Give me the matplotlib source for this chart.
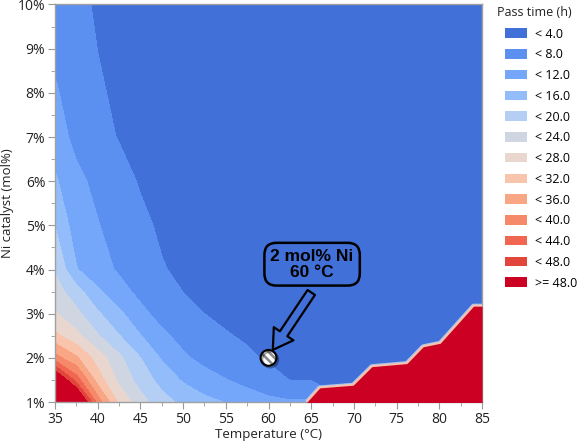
import numpy as np
import matplotlib
matplotlib.use('Agg')
import matplotlib.pyplot as plt
import matplotlib.patheffects as pe
from matplotlib.patches import Patch
from matplotlib.ticker import FuncFormatter, MultipleLocator

# grid
temperature = [35, 37.5, 40, 42.5, 45, 47.5, 50, 52.5, 55, 57.5, 60, 62.5, 65, 70, 75, 80, 85]
ni_catalyst = [1.0, 1.5, 2.0, 2.5, 3.0, 3.5, 4.0, 5.0, 6.0, 7.0, 8.0, 9.0, 10.0]

# pass time (h), one row per Ni level
pass_time = [
    [95, 58, 38, 27, 21.5, 17.5, 15, 13, 11.8, 10.3, 9.0, 8.4, 8.6, 3.2, 3.0, 2.9, 2.8],
    [55, 42, 30, 23.0, 18.3, 14.5, 11.5, 9.6, 8.1, 6.6, 5.2, 3.9, 3.8, 3.4, 3.2, 3.0, 2.9],
    [37.5, 32.5, 26, 20.8, 16.0, 11.5, 8.6, 6.8, 5.6, 4.5, 3.6, 3.3, 3.2, 3.0, 2.9, 2.8, 2.7],
    [29, 25.0, 20.3, 16.1, 12.1, 8.8, 6.7, 5.3, 4.2, 3.6, 3.3, 3.1, 3.0, 2.9, 2.8, 2.7, 2.6],
    [24.3, 21.0, 16.5, 12.8, 9.0, 6.6, 5.0, 3.98, 3.4, 3.1, 2.9, 2.8, 2.7, 2.6, 2.5, 2.5, 2.4],
    [21.8, 17.5, 12.6, 9.3, 7.0, 5.3, 3.95, 3.3, 3.0, 2.8, 2.7, 2.6, 2.5, 2.5, 2.4, 2.4, 2.3],
    [19.6, 12.2, 9.5, 7.5, 5.8, 4.2, 3.4, 3.0, 2.8, 2.6, 2.5, 2.5, 2.4, 2.4, 2.3, 2.3, 2.2],
    [15.8, 9.8, 8.2, 6.0, 4.7, 3.5, 3.0, 2.7, 2.5, 2.4, 2.3, 2.3, 2.2, 2.2, 2.1, 2.1, 2.0],
    [12.5, 9.0, 6.9, 5.2, 3.7, 3.2, 2.8, 2.5, 2.4, 2.3, 2.2, 2.2, 2.1, 2.1, 2.0, 2.0, 1.9],
    [10.0, 6.8, 5.1, 3.8, 3.2, 2.8, 2.5, 2.4, 2.3, 2.2, 2.1, 2.1, 2.0, 2.0, 1.9, 1.9, 1.8],
    [8.4, 6.2, 4.4, 3.4, 3.0, 2.7, 2.4, 2.3, 2.2, 2.1, 2.0, 2.0, 1.9, 1.9, 1.8, 1.8, 1.7],
    [7.2, 5.4, 3.95, 3.3, 2.9, 2.6, 2.4, 2.2, 2.1, 2.0, 2.0, 1.9, 1.9, 1.8, 1.8, 1.7, 1.7],
    [6.2, 4.8, 3.6, 3.2, 2.8, 2.5, 2.3, 2.2, 2.1, 2.0, 1.9, 1.9, 1.8, 1.8, 1.7, 1.7, 1.6],
]

levels = [0, 4, 8, 12, 16, 20, 24, 28, 32, 36, 40, 44, 48, 1000]
level_labels = ['< 4.0', '< 8.0', '< 12.0', '< 16.0', '< 20.0', '< 24.0', '< 28.0',
                '< 32.0', '< 36.0', '< 40.0', '< 44.0', '< 48.0', '>= 48.0']
level_colors = ['#4070d8', '#5b8ff0', '#74a7fa', '#93bcfa', '#b4cef4', '#cfd6e2', '#e8d6cf',
                '#f8c4ab', '#f9a685', '#f6896a', '#f06650', '#e2463a', '#cc0022']

# high-temperature region where pass time jumps to >= 48 h
red_edge_temp = [64.5, 66.0, 69.9, 72.1, 76.2, 78.1, 80.1, 84.0, 85.0]
red_edge_ni = [1.0, 1.32, 1.38, 1.80, 1.87, 2.25, 2.33, 3.17, 3.17]

point_temp = 60
point_ni = 2

plt.rcParams['font.family'] = ['Open Sans', 'DejaVu Sans']
plt.rcParams['hatch.linewidth'] = 1.8

fig = plt.figure(figsize=(5.78, 4.45), dpi=100)
ax = fig.add_axes([0.0952, 0.0966, 0.7388, 0.8933])

cs = ax.contourf(temperature, ni_catalyst, np.array(pass_time), levels=levels, colors=level_colors)
cs.set_edgecolor('face')
cs.set_linewidth(0.3)

ax.plot(red_edge_temp, red_edge_ni, color='#a9c4f4', lw=3.6, solid_capstyle='butt', zorder=3)
ax.plot(red_edge_temp, red_edge_ni, color='#f5c2ae', lw=2.2, solid_capstyle='butt', zorder=3)
ax.fill_between(red_edge_temp, 0.5, red_edge_ni, color=level_colors[-1], lw=0, zorder=4)

# highlighted condition
ax.scatter([point_temp], [point_ni], s=130, c='white', edgecolors='#8a8a8a', hatch='\\\\\\\\',
           linewidths=0, zorder=6)
ax.scatter([point_temp], [point_ni], s=130, facecolors='none', edgecolors='black',
           linewidths=1.5, zorder=7,
           path_effects=[pe.SimpleLineShadow(offset=(1.2, -1.2), shadow_color='black', alpha=0.35),
                         pe.Normal()])

ax.annotate('', xy=(60.5, 2.18), xytext=(65.0, 3.48),
            arrowprops=dict(arrowstyle='simple,head_width=0.85,head_length=0.7,tail_width=0.32',
                            fc='none', ec='black', lw=1.6, mutation_scale=20, shrinkA=0, shrinkB=0),
            zorder=8)
ax.text(65.1, 4.12, '2 mol% Ni\n60 \u00b0C', ha='center', va='center', fontsize=12.5,
        fontweight='bold', family='Liberation Sans', linespacing=1.05, zorder=8,
        bbox=dict(boxstyle='round,pad=0.35,rounding_size=0.7', fc='none', ec='black', lw=1.8))

ax.set_xlim(35, 85)
ax.set_ylim(1, 10)
ax.set_xticks(range(35, 90, 5))
ax.xaxis.set_minor_locator(MultipleLocator(2.5))
ax.set_yticks(range(1, 11))
ax.yaxis.set_minor_locator(MultipleLocator(0.5))
ax.yaxis.set_major_formatter(FuncFormatter(lambda v, p: f'{v:.0f}%'))
ax.tick_params(which='both', direction='out', color='#9a9a9a', labelsize=10, labelcolor='#222222')
ax.tick_params(which='major', length=5, pad=2)
ax.tick_params(which='minor', length=3)
for s in ax.spines.values():
    s.set_color('#a0a0a0')
    s.set_linewidth(1.0)

ax.set_xlabel('Temperature (\u00b0C)', fontsize=9.5, color='#222222', labelpad=1)
ax.set_ylabel('Ni catalyst (mol%)', fontsize=9.5, color='#222222', labelpad=3)

fig.text(0.859, 0.972, 'Pass time (h)', fontsize=9, color='#222222', va='center', ha='left')
handles = [Patch(facecolor=c, edgecolor='none') for c in level_colors]
leg = fig.legend(handles, level_labels, loc='upper left',
                 bbox_to_anchor=(0.861, 0.955), frameon=False, fontsize=9,
                 handlelength=1.75, handleheight=0.8, labelspacing=0.62, handletextpad=0.6,
                 borderaxespad=0.2)

fig.savefig('out.png', dpi=100)
